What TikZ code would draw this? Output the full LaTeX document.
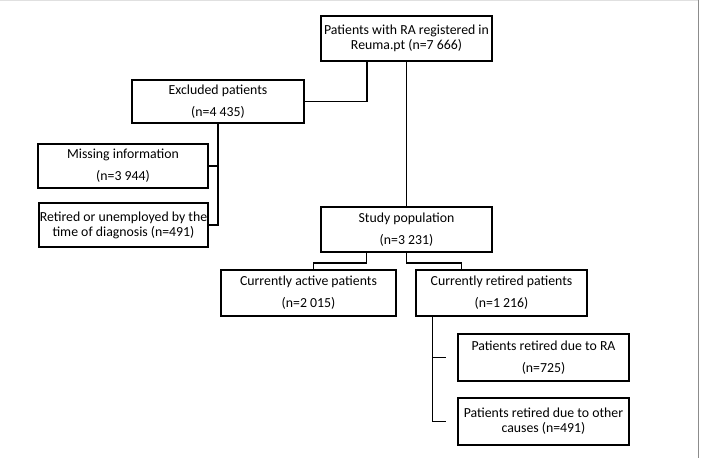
\documentclass[tikz,border=0pt]{standalone}
\usepackage{fontspec}
\setmainfont{Carlito}
\tikzset{
  x=1pt, y=-1pt,
  box/.style={draw, line width=1.8pt, align=center, inner sep=0pt, font=\fontsize{13.8}{15}\selectfont},
  link/.style={line width=1.8pt}
}
\begin{document}
\begin{tikzpicture}
    \useasboundingbox (0,0) rectangle (702,458);
    \draw[black!12, line width=1pt] (0,0.5) -- (698,0.5);
    \draw[black!45, line width=1.5pt] (698.5,0) -- (698.5,458);

    \node[box, minimum width=171, minimum height=45] (reg) at (406.5,38.5) {Patients with RA registered in\\Reuma.pt (n=7 666)};
    \node[box, minimum width=172, minimum height=43] (excl) at (218,101.5) {Excluded patients\\[7pt](n=4 435)};
    \node[box, minimum width=170, minimum height=44] (miss) at (123,166) {Missing information\\[7pt](n=3 944)};
    \node[box, minimum width=169, minimum height=44] (unemp) at (123.5,225) {Retired or unemployed by the\\time of diagnosis (n=491)};
    \node[box, minimum width=171, minimum height=45] (study) at (406.5,229.5) {Study population\\[7pt](n=3 231)};
    \node[box, minimum width=175, minimum height=46] (active) at (308.5,293) {Currently active patients\\[7pt](n=2 015)};
    \node[box, minimum width=171, minimum height=46] (retired) at (501.5,293) {Currently retired patients\\[7pt](n=1 216)};
    \node[box, minimum width=171, minimum height=47] (dueRA) at (543.5,357.5) {Patients retired due to RA\\[7pt](n=725)};
    \node[box, minimum width=171, minimum height=47] (other) at (543.5,421.5) {Patients retired due to other\\causes (n=491)};

    \draw[link] ([xshift=-39.5]reg.south) |- (excl.east);
    \draw[link] (reg.south) -- (study.north);
    \draw[link] (excl.south) |- (miss.east);
    \draw[link] (excl.south) |- (unemp.east);
    \draw[link] ([xshift=-40]study.south) -- ++(0,10) -| ([xshift=5]active.north);
    \draw[link] (study.south) -- ++(0,10) -| ([xshift=-40]retired.north);
    \draw[link] ([xshift=-69]retired.south) |- ([xshift=-11]other.west);
    \draw[link] ([xshift=-25]dueRA.west) -- ([xshift=-11]dueRA.west);
\end{tikzpicture}
\end{document}
